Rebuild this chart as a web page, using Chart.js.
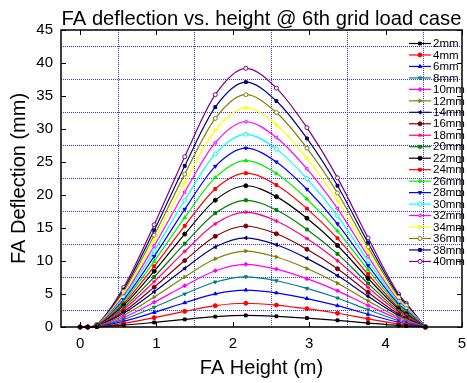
<!DOCTYPE html>
<html>
<head>
<meta charset="utf-8">
<script src="https://cdn.jsdelivr.net/npm/chart.js@4.4.0/dist/chart.umd.min.js"></script>
<style>
  html, body { margin: 0; padding: 0; background: #fff; }
  #wrap { width: 467px; height: 383px; }
</style>
</head>
<body>
<div id="wrap"><canvas id="chart" width="467" height="383"></canvas></div>
<script>
// FA height positions (m)
const heights = [0, 0.1, 0.22, 0.57, 0.97, 1.37, 1.77, 2.17, 2.57, 2.97, 3.37, 3.77, 4.17, 4.27, 4.52];

const seriesNames = ["2mm", "4mm", "6mm", "8mm", "10mm", "12mm", "14mm", "16mm", "18mm", "20mm",
                     "22mm", "24mm", "26mm", "28mm", "30mm", "32mm", "34mm", "36mm", "38mm", "40mm"];

// deflection (mm) per grid displacement
const d2mm  = [0, 0, 0.02, 0.27, 0.69, 1.15, 1.57, 1.75, 1.62, 1.35, 1.01, 0.60, 0.22, 0.16, 0];
const d4mm  = [0, 0, 0.04, 0.55, 1.42, 2.37, 3.23, 3.60, 3.32, 2.77, 2.08, 1.24, 0.46, 0.33, 0];
const d6mm  = [0, 0, 0.06, 0.86, 2.21, 3.68, 5.03, 5.60, 5.17, 4.31, 3.23, 1.93, 0.72, 0.52, 0];
const d8mm  = [0, 0, 0.08, 1.16, 3.00, 5.00, 6.82, 7.60, 7.01, 5.85, 4.39, 2.61, 0.97, 0.70, 0];
const d10mm = [0, 0, 0.10, 1.45, 3.75, 6.25, 8.53, 9.50, 8.77, 7.32, 5.48, 3.27, 1.22, 0.87, 0];
const d12mm = [0, 0, 0.12, 1.76, 4.54, 7.57, 10.33, 11.5, 10.61, 8.86, 6.64, 3.96, 1.47, 1.06, 0];
const d14mm = [0, 0, 0.14, 2.07, 5.33, 8.88, 12.12, 13.5, 12.46, 10.4, 7.79, 4.64, 1.73, 1.24, 0];
const d16mm = [0, 0, 0.15, 2.34, 6.04, 10.07, 13.74, 15.3, 14.12, 11.78, 8.83, 5.26, 1.96, 1.41, 0];
const d18mm = [0, 0, 0.17, 2.66, 6.87, 11.45, 15.63, 17.4, 16.06, 13.4, 10.04, 5.99, 2.23, 1.60, 0];
const d20mm = [0, 0, 0.19, 2.94, 7.58, 12.63, 17.24, 19.2, 17.72, 14.78, 11.08, 6.60, 2.46, 1.77, 0];
const d22mm = [0, 0, 0.21, 3.27, 8.45, 14.08, 19.22, 21.4, 19.75, 16.48, 12.35, 7.36, 2.74, 1.97, 0];
const d24mm = [0, 0, 0.23, 3.56, 9.20, 15.33, 20.92, 23.3, 21.51, 17.94, 13.44, 8.02, 2.98, 2.14, 0];
const d26mm = [0, 0, 0.25, 3.86, 9.95, 16.58, 22.63, 25.2, 23.26, 19.4, 14.54, 8.67, 3.23, 2.32, 0];
const d28mm = [0, 0, 0.27, 4.15, 10.7, 17.83, 24.34, 27.1, 25.01, 20.87, 15.64, 9.32, 3.47, 2.49, 0];
const d30mm = [0, 0, 0.29, 4.47, 11.53, 19.21, 26.22, 29.2, 26.95, 22.48, 16.85, 10.04, 3.74, 2.69, 0];
const d32mm = [0, 0, 0.31, 4.76, 12.28, 20.46, 27.93, 31.1, 28.71, 23.95, 17.94, 10.7, 3.98, 2.86, 0];
const d34mm = [0, 0, 0.33, 5.08, 13.11, 21.85, 29.81, 33.2, 30.64, 25.56, 19.16, 11.42, 4.25, 3.05, 0];
const d36mm = [0, 0, 0.35, 5.39, 13.9, 23.16, 31.61, 35.2, 32.49, 27.1, 20.31, 12.11, 4.51, 3.24, 0];
const d38mm = [0, 0, 0.37, 5.68, 14.65, 24.41, 33.32, 37.1, 34.24, 28.57, 21.41, 12.76, 4.75, 3.41, 0];
const d40mm = [0, 0, 0.39, 6.00, 15.5, 25.8, 35.2, 39.2, 36.2, 30.2, 22.6, 13.5, 5.0, 3.6, 0];

const deflections = [d2mm, d4mm, d6mm, d8mm, d10mm, d12mm, d14mm, d16mm, d18mm, d20mm,
                     d22mm, d24mm, d26mm, d28mm, d30mm, d32mm, d34mm, d36mm, d38mm, d40mm];

const xTickValues = [0, 1, 2, 3, 4, 5];
const xGridValues = [0.5, 1.5, 2.5, 3.5, 4.5];
const yTickValues = [0, 5, 10, 15, 20, 25, 30, 35, 40, 45];
const yGridValues = [2.5, 7.5, 12.5, 17.5, 22.5, 27.5, 32.5, 37.5, 42.5];

const colors = ["#000000", "#ff0000", "#0000ff", "#008080", "#ff00ff", "#808000", "#000080", "#800000", "#ff0080", "#008000",
                "#000000", "#ff0000", "#00ee00", "#0000ff", "#00ffff", "#ff00ff", "#ffff00", "#808000", "#000080", "#800080"];
const markers = ["rect", "circle", "triangle", "triangle", "rectRot", "triangle", "triangle", "circle", "star", "rect",
                 "circle", "rect", "triangle", "triangle", "circle", "triangle", "triangle", "circle", "rect", "circle"];
const rotations = [0, 0, 0, 180, 0, 90, 270, 0, 0, 0, 0, 0, 0, 180, 0, 270, 90, 0, 0, 0];
const hollow = [false, false, false, false, false, false, false, false, false, false,
                false, false, false, false, true, true, false, true, false, true];

const FONT = "Arial, 'Liberation Sans', sans-serif";
const GRID_BLUE = "#3333ff";

const datasets = seriesNames.map((name, i) => ({
    label: name,
    data: heights.map((h, j) => ({x: h, y: deflections[i][j]})),
    borderColor: colors[i],
    backgroundColor: colors[i],
    pointBackgroundColor: hollow[i] ? "#ffffff" : colors[i],
    pointBorderColor: colors[i],
    pointStyle: markers[i],
    pointRotation: rotations[i],
    pointRadius: 2,
    pointBorderWidth: 1,
    borderWidth: 1.2,
    cubicInterpolationMode: "monotone",
    clip: false
}));

function allTicks(a, b) {
    return a.concat(b).sort((p, q) => p - q).map(v => ({value: v}));
}

const framePlugin = {
    id: "frame",
    afterDatasetsDraw(chart) {
        const {ctx, chartArea: a, scales} = chart;
        ctx.save();
        ctx.setLineDash([]);
        ctx.strokeStyle = "#000";
        ctx.lineWidth = 1.5;
        ctx.strokeRect(a.left, a.top, a.right - a.left, a.bottom - a.top);
        ctx.lineWidth = 1;
        ctx.beginPath();
        xTickValues.forEach(v => {
            const px = Math.round(scales.x.getPixelForValue(v)) + 0.5;
            ctx.moveTo(px, a.bottom); ctx.lineTo(px, a.bottom - 5);
            ctx.moveTo(px, a.top); ctx.lineTo(px, a.top + 5);
        });
        yTickValues.forEach(v => {
            const py = Math.round(scales.y.getPixelForValue(v)) + 0.5;
            ctx.moveTo(a.left, py); ctx.lineTo(a.left + 5, py);
            ctx.moveTo(a.right, py); ctx.lineTo(a.right - 5, py);
        });
        ctx.stroke();
        ctx.restore();
    },
    afterDraw(chart) {
        const {ctx, chartArea: a} = chart;
        ctx.save();
        // title
        ctx.fillStyle = "#000";
        ctx.font = "20.2px " + FONT;
        ctx.textAlign = "center";
        ctx.textBaseline = "middle";
        ctx.fillText("FA deflection vs. height @ 6th grid load case", (a.left + a.right) / 2, 19);
        // legend
        const drawPoint = Chart.helpers && Chart.helpers.drawPoint;
        ctx.font = "11.5px " + FONT;
        ctx.textAlign = "left";
        chart.data.datasets.forEach((ds, i) => {
            const y = 43.5 + i * 11.47;
            ctx.strokeStyle = ds.borderColor;
            ctx.lineWidth = 1.2;
            ctx.beginPath();
            ctx.moveTo(409, y); ctx.lineTo(431, y);
            ctx.stroke();
            ctx.fillStyle = ds.pointBackgroundColor;
            ctx.lineWidth = 1;
            if (drawPoint) {
                drawPoint(ctx, {pointStyle: ds.pointStyle, rotation: ds.pointRotation, radius: 2, borderWidth: 1}, 420, y);
            } else {
                ctx.fillRect(418, y - 2, 4, 4);
            }
            ctx.fillStyle = "#000";
            ctx.fillText(ds.label, 433, y + 0.5);
        });
        ctx.restore();
    }
};

const chart = new Chart("chart", {
    type: "line",
    data: {datasets: datasets},
    options: {
        responsive: false,
        animation: false,
        devicePixelRatio: 1,
        layout: {padding: {top: 30, right: 3, bottom: 0, left: 0}},
        plugins: {
            legend: {display: false},
            tooltip: {enabled: false}
        },
        scales: {
            x: {
                type: "linear",
                min: -0.25,
                max: 5,
                afterBuildTicks: scale => { scale.ticks = allTicks(xTickValues, xGridValues); },
                afterFit: scale => { scale.height = 56; scale.paddingLeft = 0; scale.paddingRight = 0; },
                grid: {
                    drawTicks: false,
                    lineWidth: 1,
                    color: c => (c.tick && xGridValues.includes(c.tick.value)) ? GRID_BLUE : "rgba(0,0,0,0)"
                },
                border: {display: false, dash: [1, 1]},
                ticks: {
                    padding: 8,
                    color: "#000",
                    font: {family: FONT, size: 15},
                    maxRotation: 0,
                    autoSkip: false,
                    callback: v => xTickValues.includes(v) ? String(v) : ""
                },
                title: {
                    display: true,
                    text: "FA Height (m)",
                    color: "#000",
                    font: {family: FONT, size: 20},
                    padding: {top: 0, bottom: 3}
                }
            },
            y: {
                min: 0,
                max: 45,
                afterBuildTicks: scale => { scale.ticks = allTicks(yTickValues, yGridValues); },
                afterFit: scale => { scale.width = 61; scale.paddingTop = 0; scale.paddingBottom = 0; },
                grid: {
                    drawTicks: false,
                    lineWidth: 1,
                    color: c => (c.tick && yGridValues.includes(c.tick.value)) ? GRID_BLUE : "rgba(0,0,0,0)"
                },
                border: {display: false, dash: [1, 1]},
                ticks: {
                    padding: 8,
                    color: "#000",
                    font: {family: FONT, size: 15},
                    autoSkip: false,
                    callback: v => yTickValues.includes(v) ? String(v) : ""
                },
                title: {
                    display: true,
                    text: "FA Deflection (mm)",
                    color: "#000",
                    font: {family: FONT, size: 20},
                    padding: {top: 7, bottom: 0}
                }
            }
        }
    },
    plugins: [framePlugin]
});
</script>
</body>
</html>
